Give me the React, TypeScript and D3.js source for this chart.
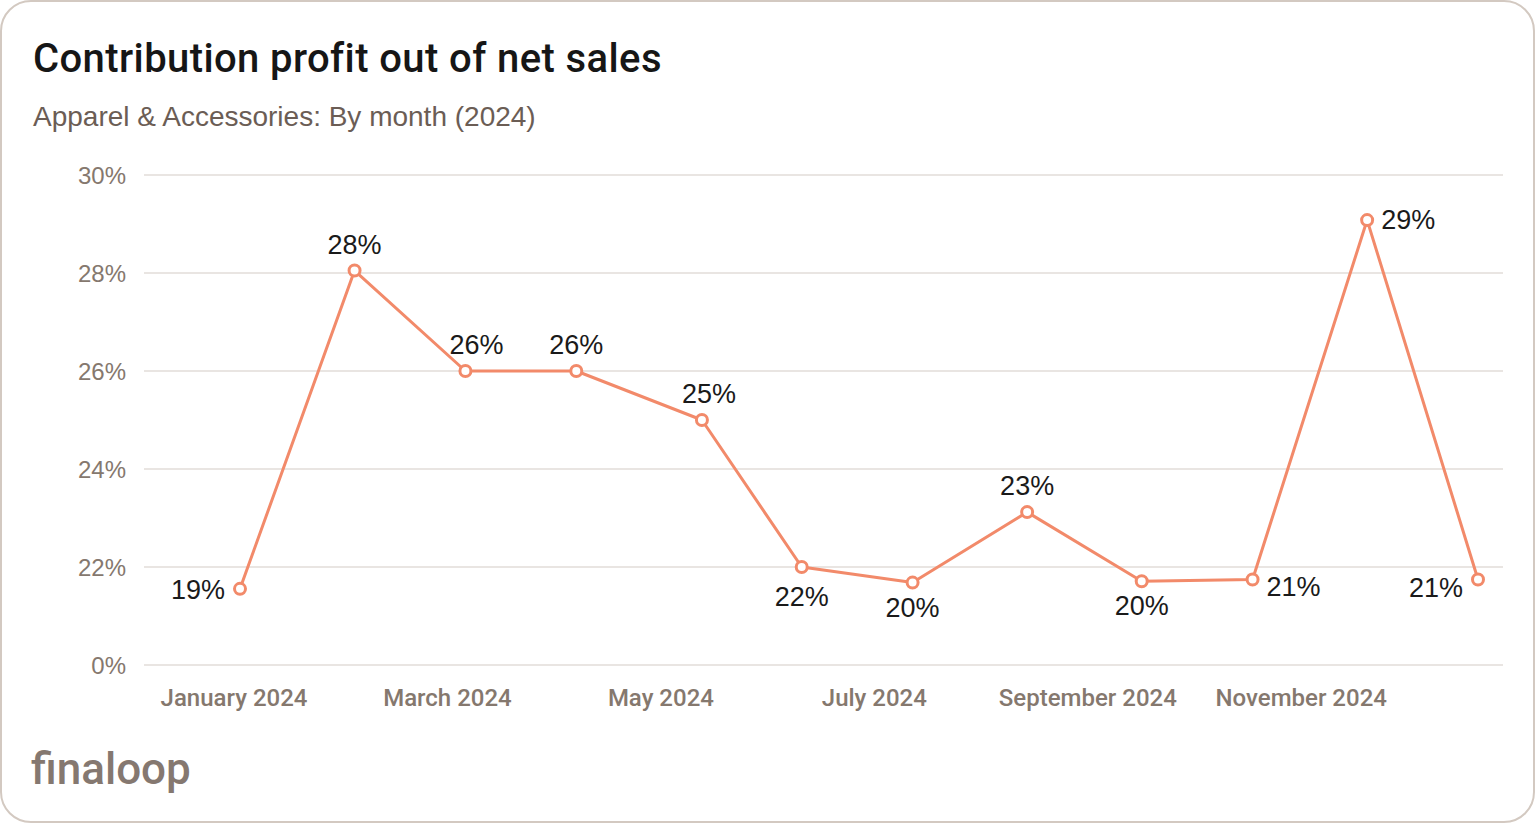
import React from 'react';
import * as d3 from 'd3';

// --- data ---
const months = [
	'2024-01-01', '2024-02-01', '2024-03-02', '2024-04-01', '2024-05-05', '2024-06-01',
	'2024-07-01', '2024-08-01', '2024-09-01', '2024-10-01', '2024-11-01', '2024-12-01',
];
// plotted value on the (broken) y axis
const values = [17.1, 28.05, 26.0, 26.0, 25.0, 22.0, 18.5, 23.12, 18.8, 19.2, 29.08, 19.2];
// label printed next to each point
const pointLabels = ['19%', '28%', '26%', '26%', '25%', '22%', '20%', '23%', '20%', '21%', '29%', '21%'];
const labelSide = ['left', 'top', 'top', 'top', 'top', 'bottom', 'bottom', 'top', 'bottom', 'right', 'right', 'left'];

const yTicks = [0, 22, 24, 26, 28, 30];
const monthNames = [
	'January', 'February', 'March', 'April', 'May', 'June',
	'July', 'August', 'September', 'October', 'November', 'December',
];
const xTickMonths = [0, 2, 4, 6, 8, 10];

const title = 'Contribution profit out of net sales';
const subtitle = 'Apparel & Accessories: By month (2024)';

const W = 1536;
const H = 824;
const LINE = '#f28a6a';
const GRID = '#e2ddd8';
const AXIS_TEXT = '#85786e';
const SANS = '"Liberation Sans", Arial, sans-serif';
const MEDIUM = 'Roboto, "Liberation Sans", sans-serif';

const App: React.FC = () => {
	const parse = d3.timeParse('%Y-%m-%d');
	const dates = months.map((m) => parse(m) as Date);

	const x = d3
		.scaleTime()
		.domain([dates[0], dates[dates.length - 1]])
		.range([240, 1478]);

	// axis break: 0 -> 22 takes one step, then 2% per step
	const y = d3.scaleLinear().domain([0, 22, 30]).range([665, 567, 175]);

	// month labels sit on their own evenly spaced slots
	const xLabel = d3.scalePoint<number>().domain(d3.range(12)).range([234, 1408]);

	const pts = dates.map((d, i) => ({ x: x(d), y: y(values[i]), label: pointLabels[i], side: labelSide[i] }));

	const line = d3
		.line<{ x: number; y: number }>()
		.x((d) => d.x)
		.y((d) => d.y);

	// small nudges so labels clear the line, as in the original
	const nudge: Record<number, [number, number]> = { 2: [11, 0], 4: [7, 0], 5: [0, 5], 9: [0, 8], 11: [0, 8] };

	const labelPos = (p: { x: number; y: number; side: string }, i: number) => {
		const [nx, ny] = nudge[i] ?? [0, 0];
		switch (p.side) {
			case 'top':
				return { x: p.x + nx, y: p.y - 26 + ny, anchor: 'middle' };
			case 'bottom':
				return { x: p.x + nx, y: p.y + 25 + ny, anchor: 'middle' };
			case 'left':
				return { x: p.x - 15 + nx, y: p.y + 1 + ny, anchor: 'end' };
			default:
				return { x: p.x + 14 + nx, y: p.y + ny, anchor: 'start' };
		}
	};

	return (
		<svg
			width={W}
			height={H}
			style={{ position: 'absolute', left: 0, top: 0, display: 'block' }}>
			<rect x={1} y={1} width={W - 3} height={H - 3} rx={30} ry={30} fill="#fff" stroke="#d3c9c1" strokeWidth={2} />

			<text x={33} y={72} fontFamily={MEDIUM} fontWeight={500} fontSize={40} letterSpacing={0.4} fill="#161616">
				{title}
			</text>
			<text x={33} y={126} fontFamily={SANS} fontSize={28} fill="#6b5d55">
				{subtitle}
			</text>

			{/* grid + y ticks */}
			{yTicks.map((t) => (
				<g key={t}>
					<line x1={144} x2={1503} y1={y(t)} y2={y(t)} stroke={GRID} strokeWidth={1.5} />
					<text
						x={126}
						y={y(t)}
						textAnchor="end"
						dominantBaseline="central"
						fontFamily={SANS}
						fontSize={24}
						fill={AXIS_TEXT}>
						{t}%
					</text>
				</g>
			))}

			{/* x labels */}
			{xTickMonths.map((m) => (
				<text
					key={m}
					x={xLabel(m)}
					y={706}
					textAnchor="middle"
					fontFamily={MEDIUM}
					fontWeight={500}
					fontSize={24}
					fill={AXIS_TEXT}>
					{monthNames[m]} 2024
				</text>
			))}

			<path d={line(pts) ?? ''} fill="none" stroke={LINE} strokeWidth={3} strokeLinejoin="round" />
			{pts.map((p, i) => (
				<circle key={i} cx={p.x} cy={p.y} r={5.5} fill="#fff" stroke={LINE} strokeWidth={3} />
			))}
			{pts.map((p, i) => {
				const l = labelPos(p, i);
				return (
					<text
						key={i}
						x={l.x}
						y={l.y}
						textAnchor={l.anchor}
						dominantBaseline="central"
						fontFamily={SANS}
						fontSize={27}
						fill="#1a1a1a">
						{p.label}
					</text>
				);
			})}

			<text x={31} y={784} fontFamily={MEDIUM} fontWeight={500} fontSize={44} fill="#857870">
				finaloop
			</text>
		</svg>
	);
};

export default App;
